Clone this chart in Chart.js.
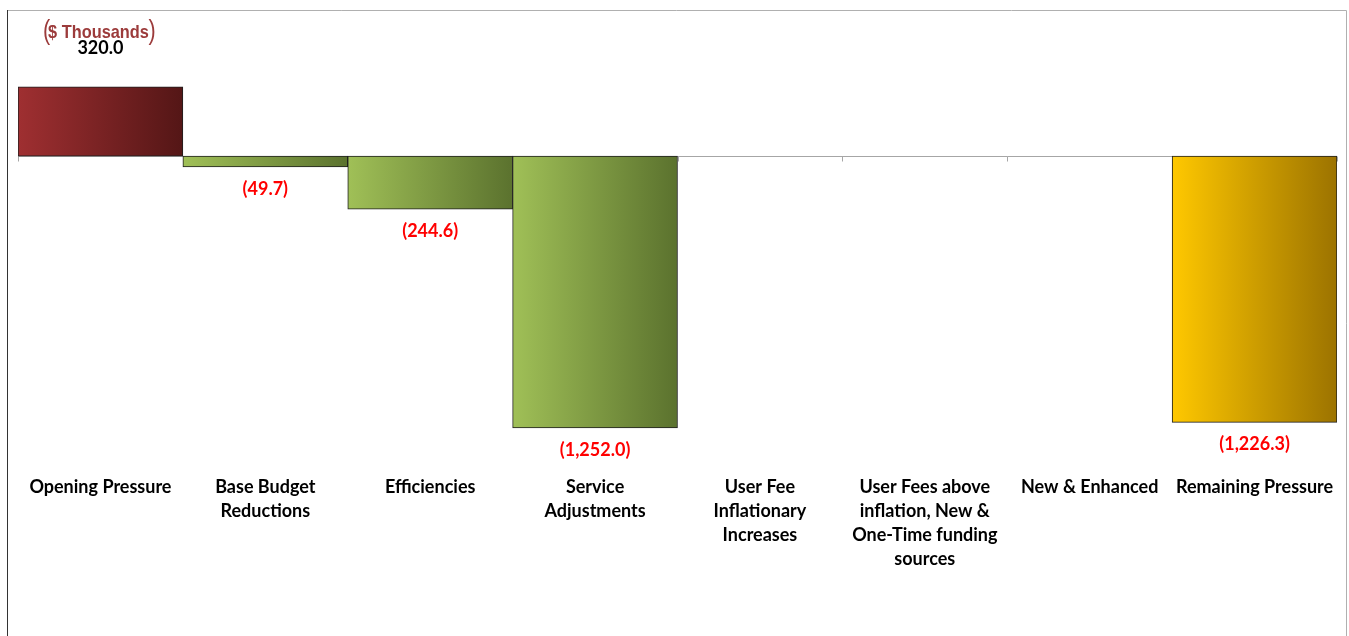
<!DOCTYPE html>
<html><head><meta charset="utf-8">
<script src="https://cdn.jsdelivr.net/npm/chart.js@4"></script>
<style>html,body{margin:0;padding:0;background:#fff;}#wrap{width:1349px;height:636px;position:relative;}</style>
</head><body><div id="wrap"><canvas id="c" width="1349" height="636"></canvas></div>
<script>
const categories = [
  ['Opening Pressure'],
  ['Base Budget', 'Reductions'],
  ['Efficiencies'],
  ['Service', 'Adjustments'],
  ['User Fee', 'Inflationary', 'Increases'],
  ['User Fees above', 'inflation, New &', 'One-Time funding', 'sources'],
  ['New & Enhanced'],
  ['Remaining Pressure']
];
const values = [320.0, -49.7, -244.6, -1252.0, null, null, null, -1226.3];
const unitLabel = '$ Thousands';

const gradLight = ['#9F2F31', '#A0C057', '#A0C057', '#A0C057', '#A0C057', '#A0C057', '#A0C057', '#FFC800'];
const gradDark  = ['#541616', '#5B722E', '#5B722E', '#5B722E', '#5B722E', '#5B722E', '#5B722E', '#9C7300'];

function fmt(v){
  const s = Math.abs(v).toLocaleString('en-US',{minimumFractionDigits:1,maximumFractionDigits:1});
  return v < 0 ? '(' + s + ')' : s;
}

const decor = {
  id: 'decor',
  beforeDatasetsDraw(chart){
    const {ctx, chartArea, scales:{x,y}} = chart;
    const y0 = Math.round(y.getPixelForValue(0)) + 0.5;
    ctx.save();
    ctx.strokeStyle = '#A6A6A6';
    ctx.lineWidth = 1;
    ctx.beginPath();
    ctx.moveTo(chartArea.left, y0); ctx.lineTo(chartArea.right, y0);
    const w = chartArea.width / categories.length;
    for (let i = 0; i <= categories.length; i++){
      const px = Math.round(chartArea.left + i*w) + 0.5;
      ctx.moveTo(px, y0); ctx.lineTo(px, y0 + 5);
    }
    ctx.stroke();
    ctx.restore();
  },
  afterDatasetsDraw(chart){
    const {ctx} = chart;
    const meta = chart.getDatasetMeta(0);
    ctx.save();
    ctx.textAlign = 'center';
    ctx.textBaseline = 'middle';
    ctx.font = 'bold 18px Lato, "Open Sans", sans-serif';
    meta.data.forEach((bar, i) => {
      const v = values[i];
      if (v === null || v === undefined) return;
      if (v >= 0){
        ctx.fillStyle = '#000000';
        ctx.fillText(fmt(v), bar.x, bar.y - 39);
      } else {
        ctx.fillStyle = '#FF0000';
        ctx.fillText(fmt(v), bar.x, bar.y + 22);
      }
    });
    // unit label
    ctx.fillStyle = '#9C3B3B';
    ctx.save();
    ctx.translate(98.5, 33);
    ctx.scale(0.86, 1);
    ctx.font = 'bold 19px "Liberation Sans", Arial, sans-serif';
    ctx.textAlign = 'center';
    ctx.fillText(unitLabel, 0, 0);
    ctx.restore();
    ctx.save();
    ctx.translate(0, 32);
    ctx.scale(0.8, 1);
    ctx.font = '27px "Liberation Sans", sans-serif';
    ctx.textAlign = 'center';
    ctx.fillText('(', 46.5/0.8, 0);
    ctx.fillText(')', 152/0.8, 0);
    ctx.restore();
    // frame
    ctx.lineWidth = 1;
    ctx.strokeStyle = '#B0B0B0';
    ctx.beginPath();
    ctx.moveTo(7, 10.5); ctx.lineTo(1346.5, 10.5); ctx.lineTo(1346.5, 636);
    ctx.stroke();
    ctx.strokeStyle = '#333333';
    ctx.beginPath();
    ctx.moveTo(7.5, 10); ctx.lineTo(7.5, 636);
    ctx.stroke();
    ctx.restore();
  }
};

new Chart(document.getElementById('c'), {
  type: 'bar',
  data: {
    labels: categories,
    datasets: [{
      data: values,
      backgroundColor(context){
        const chart = context.chart;
        const area = chart.chartArea;
        const i = context.dataIndex;
        if (!area || !chart.scales.x) return gradLight[i];
        const w = area.width / categories.length;
        const cx = chart.scales.x.getPixelForValue(i);
        const g = chart.ctx.createLinearGradient(cx - w/2, 0, cx + w/2, 0);
        g.addColorStop(0, gradLight[i]);
        g.addColorStop(1, gradDark[i]);
        return g;
      },
      borderColor: '#1E1E1E',
      borderWidth: 1,
      borderSkipped: false,
      barPercentage: 1,
      categoryPercentage: 1
    }]
  },
  options: {
    responsive: false,
    animation: false,
    devicePixelRatio: 1,
    layout: { padding: { left: 18, right: 12, top: 26, bottom: 0 } },
    plugins: { legend: { display: false }, tooltip: { enabled: false } },
    scales: {
      x: {
        grid: { display: false },
        border: { display: false },
        ticks: {
          color: '#000000',
          font: { family: 'Lato, "Open Sans", sans-serif', size: 18, weight: 'bold', lineHeight: 24/18 },
          padding: 7,
          maxRotation: 0,
          autoSkip: false
        },
        afterFit(scale){ scale.height = 176; }
      },
      y: {
        display: false,
        min: -1400,
        max: 600
      }
    }
  },
  plugins: [decor]
});
</script>
</body></html>
